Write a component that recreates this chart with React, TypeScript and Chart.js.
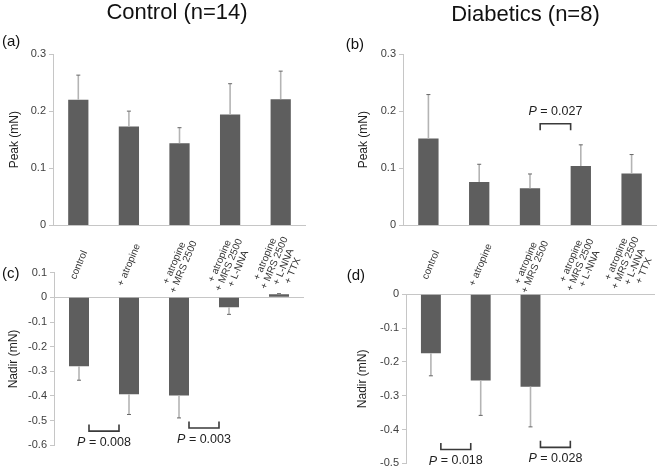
import React, { useEffect, useRef } from 'react';
import { Chart, registerables } from 'chart.js';

Chart.register(...registerables);

const FONT = "'Liberation Sans', Arial, sans-serif";
Chart.defaults.font.family = FONT;

// ---------- data ----------
const categories: string[][] = [
  ['control'],
  ['+ atropine'],
  ['+ atropine', '+ MRS 2500'],
  ['+ atropine', '+ MRS 2500', '+ L-NNA'],
  ['+ atropine', '+ MRS 2500', '+ L-NNA', '+ TTX'],
];

const controlPeak = [0.22, 0.173, 0.144, 0.194, 0.221];
const controlPeakErr = [0.043, 0.027, 0.027, 0.054, 0.049];

const diabeticPeak = [0.152, 0.076, 0.065, 0.104, 0.091];
const diabeticPeakErr = [0.077, 0.031, 0.025, 0.037, 0.033];

const controlNadir = [-0.279, -0.393, -0.398, -0.04, 0.013];
const controlNadirErr = [0.057, 0.082, 0.091, 0.029, 0.002];

const diabeticNadir: (number | null)[] = [-0.174, -0.255, -0.273, null, null];
const diabeticNadirErr: (number | null)[] = [0.067, 0.103, 0.119, null, null];

type Bracket = { from: number; to: number; y: number; p: string };

const controlPeakBrackets: Bracket[] = [];
const diabeticPeakBrackets: Bracket[] = [{ from: 2, to: 3, y: 0.178, p: '0.027' }];
const controlNadirBrackets: Bracket[] = [
  { from: 0, to: 1, y: -0.5425, p: '0.008' },
  { from: 2, to: 3, y: -0.53, p: '0.003' },
];
const diabeticNadirBrackets: Bracket[] = [
  { from: 0, to: 1, y: -0.459, p: '0.018' },
  { from: 2, to: 3, y: -0.4526, p: '0.028' },
];

type PanelProps = {
  left: number;
  top: number;
  width: number;
  height: number;
  values: (number | null)[];
  errors: (number | null)[];
  min: number;
  max: number;
  yTitle: string;
  titlePad: number;
  axisWidth: number;
  pad: { top: number; right: number; bottom: number };
  panelLabel: { text: string; x: number; y: number };
  mainTitle?: { text: string; x: number; y: number };
  catLabelsY?: number;
  brackets: Bracket[];
};

function drawP(ctx: CanvasRenderingContext2D, cx: number, cy: number, num: string) {
  const size = 12.5;
  ctx.save();
  ctx.fillStyle = '#222';
  ctx.textBaseline = 'middle';
  ctx.textAlign = 'left';
  ctx.font = `italic ${size}px ${FONT}`;
  const wP = ctx.measureText('P').width;
  ctx.font = `${size}px ${FONT}`;
  const rest = ' = ' + num;
  const wR = ctx.measureText(rest).width;
  const x0 = cx - (wP + wR) / 2;
  ctx.font = `italic ${size}px ${FONT}`;
  ctx.fillText('P', x0, cy);
  ctx.font = `${size}px ${FONT}`;
  ctx.fillText(rest, x0 + wP, cy);
  ctx.restore();
}

function Panel(props: PanelProps) {
  const ref = useRef<HTMLCanvasElement | null>(null);
  useEffect(() => {
    if (!ref.current) return;
    const p = props;
    const decor = {
      id: 'decor',
      afterDatasetsDraw(chart: any) {
        const ctx: CanvasRenderingContext2D = chart.ctx;
        const y = chart.scales.y;
        const x = chart.scales.x;
        const meta = chart.getDatasetMeta(0);
        const barW = meta.data[0].width;
        // error bars
        p.values.forEach((v, i) => {
          const e = p.errors[i];
          if (v == null || e == null) return;
          const dir = v >= 0 ? 1 : -1;
          const xp = x.getPixelForValue(i);
          const y0 = y.getPixelForValue(v);
          const y1 = y.getPixelForValue(v + dir * e);
          ctx.save();
          ctx.strokeStyle = '#b4b4b4';
          ctx.lineWidth = 1.6;
          ctx.beginPath();
          ctx.moveTo(xp, y0);
          ctx.lineTo(xp, y1);
          ctx.stroke();
          ctx.strokeStyle = '#666';
          ctx.lineWidth = 1;
          ctx.beginPath();
          ctx.moveTo(xp - 2, y1);
          ctx.lineTo(xp + 2, y1);
          ctx.stroke();
          ctx.restore();
        });
        // brackets
        p.brackets.forEach((b) => {
          const x1 = x.getPixelForValue(b.from) + barW / 2;
          const x2 = x.getPixelForValue(b.to) - barW / 2;
          const yp = y.getPixelForValue(b.y);
          const up = b.y < 0;
          const leg = up ? -6.5 : 6.5;
          ctx.save();
          ctx.strokeStyle = '#3a3a3a';
          ctx.lineWidth = 1.6;
          ctx.beginPath();
          ctx.moveTo(x1, yp + leg);
          ctx.lineTo(x1, yp);
          ctx.lineTo(x2, yp);
          ctx.lineTo(x2, yp + leg);
          ctx.stroke();
          ctx.restore();
          const cx = (x1 + x2) / 2;
          drawP(ctx, cx, up ? yp + 11.5 : yp - 12, b.p);
        });
      },
      afterDraw(chart: any) {
        const ctx: CanvasRenderingContext2D = chart.ctx;
        const x = chart.scales.x;
        ctx.save();
        ctx.fillStyle = '#111';
        ctx.font = `15px ${FONT}`;
        ctx.textAlign = 'left';
        ctx.textBaseline = 'middle';
        ctx.fillText(p.panelLabel.text, p.panelLabel.x, p.panelLabel.y);
        if (p.mainTitle) {
          ctx.font = `22px ${FONT}`;
          ctx.textAlign = 'center';
          ctx.fillText(p.mainTitle.text, p.mainTitle.x, p.mainTitle.y);
        }
        if (p.catLabelsY != null) {
          ctx.font = `10px ${FONT}`;
          ctx.fillStyle = '#333';
          ctx.textAlign = 'center';
          ctx.textBaseline = 'middle';
          const ang = (-67 * Math.PI) / 180;
          const lh = 10;
          categories.forEach((lines, i) => {
            const xp = x.getPixelForValue(i);
            ctx.save();
            ctx.translate(xp, p.catLabelsY as number);
            ctx.rotate(ang);
            const n = lines.length;
            lines.forEach((ln, k) => {
              ctx.fillText(ln, 0, (k - (n - 1) / 2) * lh);
            });
            ctx.restore();
          });
        }
        ctx.restore();
      },
    };

    const chart = new Chart(ref.current, {
      type: 'bar',
      data: {
        labels: categories.map((c) => c.join(' ')),
        datasets: [
          {
            data: p.values as any,
            backgroundColor: '#5e5e5e',
            borderWidth: 0,
            barPercentage: 0.4,
            categoryPercentage: 1,
          },
        ],
      },
      options: {
        animation: false,
        responsive: false,
        maintainAspectRatio: false,
        events: [],
        layout: { padding: { left: 0, top: p.pad.top, right: p.pad.right, bottom: p.pad.bottom } },
        plugins: {
          legend: { display: false },
          tooltip: { enabled: false },
          title: { display: false },
        },
        scales: {
          x: { display: false },
          y: {
            min: p.min,
            max: p.max,
            ticks: {
              stepSize: 0.1,
              color: '#404040',
              font: { size: 11, family: FONT },
              padding: 3,
              callback: (v: any) => {
                const r = Math.round(Number(v) * 10) / 10;
                return r === 0 ? '0' : r.toFixed(1);
              },
            },
            grid: {
              color: (c: any) => (Math.abs(c.tick.value) < 1e-9 ? '#c6c6c6' : 'rgba(0,0,0,0)'),
              lineWidth: 1,
              drawTicks: true,
              tickLength: 4,
              tickColor: '#c6c6c6',
            },
            border: { display: true, color: '#c6c6c6', width: 1 },
            title: {
              display: true,
              text: p.yTitle,
              color: '#222',
              font: { size: 12, family: FONT },
              padding: { top: p.titlePad, bottom: 0 },
            },
            afterFit: (s: any) => {
              s.width = p.axisWidth;
            },
          } as any,
        },
      },
      plugins: [decor as any],
    });
    return () => chart.destroy();
  }, []);
  return (
    <canvas
      ref={ref}
      width={props.width}
      height={props.height}
      style={{
        position: 'absolute',
        left: props.left,
        top: props.top,
        width: props.width,
        height: props.height,
      }}
    />
  );
}

export default function App() {
  return (
    <div
      style={{
        position: 'absolute',
        left: 0,
        top: 0,
        width: 660,
        height: 473,
        background: '#fff',
        overflow: 'hidden',
      }}
    >
      <Panel
        left={0}
        top={0}
        width={330}
        height={235}
        values={controlPeak}
        errors={controlPeakErr}
        min={0}
        max={0.3}
        yTitle="Peak (mN)"
        titlePad={7.8}
        axisWidth={53}
        pad={{ top: 54, right: 24, bottom: 8 }}
        panelLabel={{ text: '(a)', x: 2, y: 41.5 }}
        mainTitle={{ text: 'Control (n=14)', x: 177, y: 12.5 }}
        brackets={controlPeakBrackets}
      />
      <Panel
        left={330}
        top={0}
        width={330}
        height={235}
        values={diabeticPeak}
        errors={diabeticPeakErr}
        min={0}
        max={0.3}
        yTitle="Peak (mN)"
        titlePad={26}
        axisWidth={73}
        pad={{ top: 54, right: 3, bottom: 8 }}
        panelLabel={{ text: '(b)', x: 15.7, y: 45 }}
        mainTitle={{ text: 'Diabetics (n=8)', x: 195.5, y: 14.5 }}
        brackets={diabeticPeakBrackets}
      />
      <Panel
        left={0}
        top={232}
        width={330}
        height={241}
        values={controlNadir}
        errors={controlNadirErr}
        min={-0.6}
        max={0.1}
        yTitle="Nadir (mN)"
        titlePad={6}
        axisWidth={54}
        pad={{ top: 40.7, right: 26, bottom: 27.7 }}
        panelLabel={{ text: '(c)', x: 2, y: 42 }}
        catLabelsY={33}
        brackets={controlNadirBrackets}
      />
      <Panel
        left={330}
        top={232}
        width={330}
        height={241}
        values={diabeticNadir}
        errors={diabeticNadirErr}
        min={-0.5}
        max={0}
        yTitle="Nadir (mN)"
        titlePad={25.8}
        axisWidth={76}
        pad={{ top: 62.3, right: 5, bottom: 6.7 }}
        panelLabel={{ text: '(d)', x: 16.7, y: 44 }}
        catLabelsY={33}
        brackets={diabeticNadirBrackets}
      />
    </div>
  );
}
